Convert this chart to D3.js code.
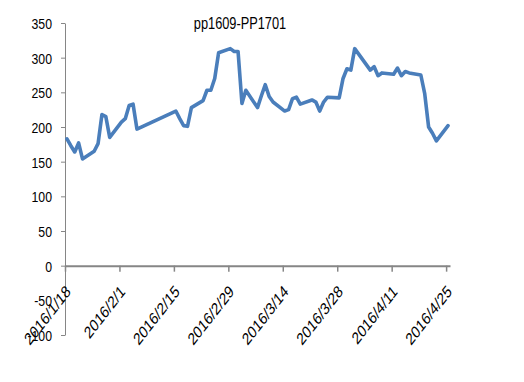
<!DOCTYPE html>
<html>
<head>
<meta charset="utf-8">
<script src="https://cdn.jsdelivr.net/npm/d3@7"></script>
<style>
  html, body { margin: 0; padding: 0; background: #fff; }
  svg { display: block; }
  text { font-family: "Liberation Sans", Arial, sans-serif; fill: #000; }
</style>
</head>
<body>
<svg id="chart" width="524" height="382"></svg>
<script>
const title = "pp1609-PP1701";
const dates = [
  "2016-01-18","2016-01-19","2016-01-20","2016-01-21","2016-01-22",
  "2016-01-25","2016-01-26","2016-01-27","2016-01-28","2016-01-29",
  "2016-02-01","2016-02-02","2016-02-03","2016-02-04","2016-02-05",
  "2016-02-15","2016-02-16","2016-02-17","2016-02-18","2016-02-19",
  "2016-02-22","2016-02-23","2016-02-24","2016-02-25","2016-02-26",
  "2016-02-29","2016-03-01","2016-03-02","2016-03-03","2016-03-04",
  "2016-03-07","2016-03-08","2016-03-09","2016-03-10","2016-03-11",
  "2016-03-14","2016-03-15","2016-03-16","2016-03-17","2016-03-18",
  "2016-03-21","2016-03-22","2016-03-23","2016-03-24","2016-03-25",
  "2016-03-28","2016-03-29","2016-03-30","2016-03-31","2016-04-01",
  "2016-04-05","2016-04-06","2016-04-07","2016-04-08",
  "2016-04-11","2016-04-12","2016-04-13","2016-04-14","2016-04-15",
  "2016-04-18","2016-04-19","2016-04-20","2016-04-21","2016-04-22",
  "2016-04-25"
];
const spread = [
  183,173,164,177,154,
  165,176,218,215,185,
  207,212,231,233,197,
  223,212,202,201,228,
  238,253,253,270,307,
  313,309,309,234,253,
  228,245,261,244,236,
  223,225,241,243,233,
  239,236,223,236,243,
  242,270,284,282,313,
  282,287,274,278,
  276,285,274,280,278,
  275,248,200,191,180,
  202
];
const xTickDates = ["2016-01-18","2016-02-01","2016-02-15","2016-02-29","2016-03-14","2016-03-28","2016-04-11","2016-04-25"];
const xTickLabels = ["2016/1/18","2016/2/1","2016/2/15","2016/2/29","2016/3/14","2016/3/28","2016/4/11","2016/4/25"];
const yTicks = [-100,-50,0,50,100,150,200,250,300,350];

const parse = d3.timeParse("%Y-%m-%d");
const svg = d3.select("#chart");
const gray = "#868686";

const x = d3.scaleTime()
  .domain([parse("2016-01-18"), parse("2016-04-26")])
  .range([65, 450]);
const y = d3.scaleLinear().domain([-100, 350]).range([335, 23]);

const data = dates.map((d, i) => ({ date: d3.timeHour.offset(parse(d), 12), v: spread[i] }));

// Y axis
const yAxis = svg.append("g").attr("transform", "translate(65,0)")
  .call(d3.axisLeft(y).tickValues(yTicks).tickSizeInner(4).tickSizeOuter(0)
    .tickFormat(d => String(d)));
yAxis.select(".domain").attr("stroke", gray).attr("stroke-width", 1);
yAxis.selectAll(".tick line").attr("stroke", gray).attr("stroke-width", 1);
yAxis.selectAll(".tick text")
  .attr("x", 0).attr("dy", "0.36em")
  .attr("transform", "translate(-13,0) scale(0.82,1)")
  .style("font-size", "15px").attr("fill", "#000");

// X axis at y=0
const xAxis = svg.append("g").attr("transform", `translate(0,${y(0)})`)
  .call(d3.axisBottom(x).tickValues(xTickDates.map(parse)).tickSizeInner(6).tickSizeOuter(0)
    .tickFormat((d, i) => xTickLabels[i]));
xAxis.select(".domain").attr("stroke", gray).attr("stroke-width", 2);
xAxis.selectAll(".tick line").attr("stroke", gray).attr("stroke-width", 1.5);
xAxis.selectAll(".tick text")
  .attr("x", 0).attr("y", 0).attr("dy", 0)
  .attr("text-anchor", "end")
  .attr("transform", "translate(6,27) scale(0.78,1) rotate(-45)")
  .style("font-size", "17px").attr("fill", "#000");

// Line
const line = d3.line().x(d => x(d.date)).y(d => y(d.v));
svg.append("path").datum(data)
  .attr("d", line)
  .attr("fill", "none")
  .attr("stroke", "#4A7EBB")
  .attr("stroke-width", 3.6)
  .attr("stroke-linejoin", "round")
  .attr("stroke-linecap", "round");

// Title
svg.append("text")
  .attr("text-anchor", "middle")
  .attr("transform", "translate(240,29) scale(0.8,1)")
  .style("font-size", "16px")
  .text(title);
</script>
</body>
</html>
